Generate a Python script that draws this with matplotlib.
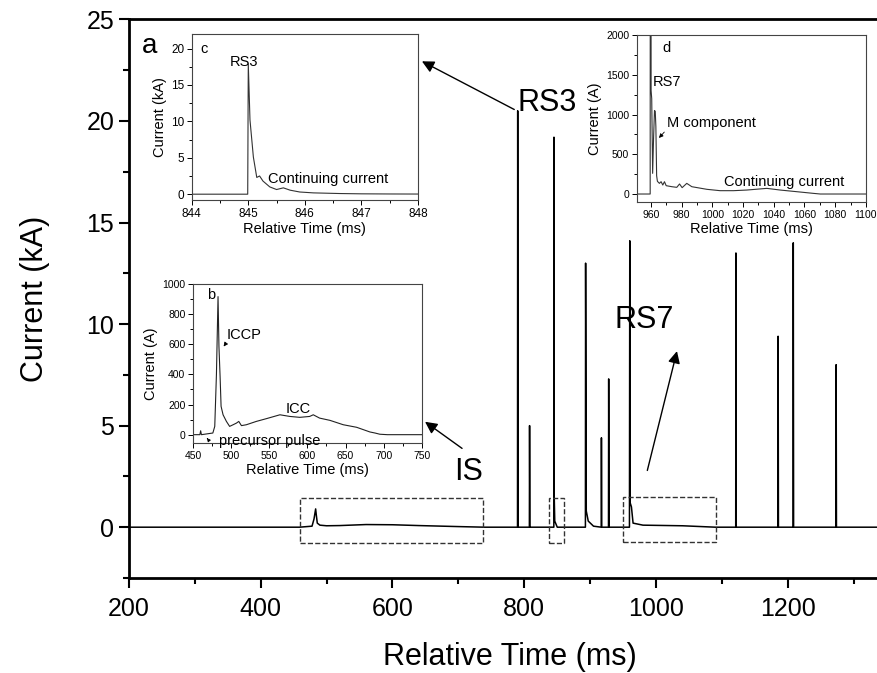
import matplotlib
matplotlib.use("Agg")
import matplotlib.pyplot as plt
from matplotlib.patches import Rectangle
from matplotlib.ticker import MultipleLocator

plt.rcParams['font.family'] = ['Liberation Sans', 'DejaVu Sans']

# main record (ms, kA)
main_t = [200, 459, 478, 481, 483.5, 484.5, 486, 490, 500, 520, 560, 600, 640, 700, 740,
          789.7, 790, 790.5, 807.7, 808, 808.5, 844.8, 845.0, 845.4, 846.2, 850,
          892.7, 893, 894, 897, 905, 916.7, 917, 917.5, 927.7, 928, 928.5,
          959.5, 960, 960.6, 962.5, 965, 980, 1040, 1090,
          1120.7, 1121, 1121.5, 1184.7, 1185, 1185.5, 1207.7, 1208, 1208.5,
          1272.7, 1273, 1273.5, 1400]
main_i = [0, 0, 0.05, 0.4, 0.9, 0.6, 0.2, 0.1, 0.07, 0.08, 0.13, 0.12, 0.08, 0.03, 0,
          0, 20.5, 0, 0, 5.0, 0, 0, 19.2, 1.5, 0.3, 0,
          0, 13.0, 0.8, 0.3, 0.05, 0, 4.4, 0, 0, 7.3, 0,
          0, 14.1, 1.2, 1.0, 0.2, 0.1, 0.07, 0,
          0, 13.5, 0, 0, 9.4, 0, 0, 14.0, 0,
          0, 8.0, 0, 0]

# inset c: RS3 (ms, kA)
c_t = [844.0, 844.99, 845.0, 845.03, 845.09, 845.15, 845.2, 845.26, 845.38, 845.5,
       845.62, 845.74, 845.91, 846.15, 846.62, 847.0, 847.5, 848.0]
c_i = [0, 0, 17.9, 10.2, 5.1, 2.3, 2.5, 1.8, 1.0, 0.64,
       0.87, 0.55, 0.3, 0.18, 0.09, 0.05, 0.03, 0.02]

# inset d: RS7 (ms, A)
d_t = [950, 959.6, 959.8, 960.2, 960.6, 961.2, 961.8, 962.4, 962.9, 963.3, 963.8, 964.3,
       965.6, 966.7, 967.8, 968.9, 970.0, 973.7, 976.9, 978.7, 980.4, 983.4, 986.7,
       996.5, 1005.1, 1013.8, 1022.5, 1035.5, 1044.2, 1055.1, 1065.9, 1070.3, 1100]
d_i = [0, 0, 14000, 1300, 1200, 260, 700, 1050, 1040, 850, 230, 160,
       134, 155, 113, 155, 105, 92, 84, 126, 80, 134, 92,
       59, 42, 42, 50, 71, 50, 29, 8, 0, 0]

# inset b: IS (ms, A)
b_t = [450, 459, 460, 461, 476, 478.5, 480.7, 482.8, 484, 485.5, 486.8, 489.4, 493.8,
       498, 502.6, 507, 510, 513.5, 520, 533, 546, 564, 577, 590, 603, 607.7, 616,
       629.6, 647, 664.6, 682, 688.7, 695, 705, 750]
b_i = [0, 0, 26, 0, 11, 55, 400, 916, 585, 386, 188, 132, 88,
       55, 66, 77, 88, 60, 66, 88, 106, 132, 121, 115, 121, 132, 110,
       95, 66, 49, 18, 11, 3, 0, 0]

# dashed zoom boxes (t0, t1, i0, i1)
boxes = [(459.5, 737, -0.8, 1.45), (837, 860, -0.8, 1.45), (950, 1091, -0.75, 1.5)]

fig = plt.figure(figsize=(8.77, 6.73), dpi=100)
ax = fig.add_axes([0.1468, 0.1412, 0.8532, 0.83])
ax.plot(main_t, main_i, color='black', lw=1.1)
ax.set_xlim(200, 1335)
ax.set_ylim(-2.5, 25)
ax.xaxis.set_major_locator(MultipleLocator(200))
ax.xaxis.set_minor_locator(MultipleLocator(100))
ax.yaxis.set_major_locator(MultipleLocator(5))
ax.yaxis.set_minor_locator(MultipleLocator(2.5))
ax.tick_params(which='both', direction='out', width=1.5, labelsize=18, top=False, right=False)
ax.tick_params(which='major', length=7)
ax.tick_params(which='minor', length=4)
ax.tick_params(axis='x', which='major', pad=7)
for s in ax.spines.values():
    s.set_linewidth(2)
ax.spines['right'].set_visible(False)
ax.set_xlabel('Relative Time (ms)', fontsize=22)
ax.xaxis.set_label_coords(0.51, -0.115)
ax.set_ylabel('Current (kA)', fontsize=22, labelpad=26)

for t0, t1, i0, i1 in boxes:
    ax.add_patch(Rectangle((t0, i0), t1 - t0, i1 - i0, fill=False, ls='--',
                           lw=1.0, ec='#333333', zorder=3))

ax.text(220, 23.7, 'a', fontsize=20, va='center')
ax.text(789, 20.9, 'RS3', fontsize=22, va='center')
ax.text(982, 10.2, 'RS7', fontsize=22, va='center', ha='center')
ax.text(716, 2.7, 'IS', fontsize=22, va='center', ha='center')
arw = dict(arrowstyle='-|>', color='black', lw=1.0, mutation_scale=18)
ax.annotate('', xy=(641, 23.0), xytext=(788.5, 20.5), arrowprops=arw)
ax.annotate('', xy=(1032.6, 8.8), xytext=(985.6, 2.66), arrowprops=arw)
ax.annotate('', xy=(646, 5.27), xytext=(709, 3.8), arrowprops=arw)


def style_inset(a, tsize):
    for s in a.spines.values():
        s.set_linewidth(0.8)
        s.set_color('#444444')
    a.tick_params(which='both', direction='out', width=0.7, labelsize=tsize,
                  top=False, right=False, pad=2)
    a.tick_params(which='major', length=3.5)
    a.tick_params(which='minor', length=2)
    a.set_xlabel('Relative Time (ms)', fontsize=10.5, labelpad=2)


# inset c
axc = fig.add_axes([0.2186, 0.7028, 0.258, 0.2467])
axc.plot(c_t, c_i, color='#333333', lw=0.8)
axc.set_xlim(844, 848)
axc.set_ylim(-0.8, 22)
axc.xaxis.set_major_locator(MultipleLocator(1))
axc.xaxis.set_minor_locator(MultipleLocator(0.5))
axc.yaxis.set_major_locator(MultipleLocator(5))
axc.yaxis.set_minor_locator(MultipleLocator(2.5))
style_inset(axc, 8.5)
axc.set_ylabel('Current (kA)', fontsize=10.5, labelpad=3)
axc.text(844.15, 19.9, 'c', fontsize=10.5, va='center')
axc.text(844.68, 18.1, 'RS3', fontsize=10.5, va='center')
axc.text(845.35, 2.06, 'Continuing current', fontsize=10.5, va='center')

# inset d
axd = fig.add_axes([0.7263, 0.6999, 0.2611, 0.2481])
axd.plot(d_t, d_i, color='#333333', lw=0.8)
axd.set_xlim(951, 1100)
axd.set_ylim(-100, 2000)
axd.xaxis.set_major_locator(MultipleLocator(20))
axd.xaxis.set_minor_locator(MultipleLocator(10))
axd.yaxis.set_major_locator(MultipleLocator(500))
axd.yaxis.set_minor_locator(MultipleLocator(250))
style_inset(axd, 7.5)
axd.set_ylabel('Current (A)', fontsize=10.5, labelpad=3)
axd.text(967.4, 1836, 'd', fontsize=10.5, va='center')
axd.text(961.5, 1409, 'RS7', fontsize=10.5, va='center')
axd.text(970.6, 893, 'M component', fontsize=10.5, va='center')
axd.annotate('', xy=(964.1, 679), xytext=(970, 805),
             arrowprops=dict(arrowstyle='-|>', color='black', lw=0.6, mutation_scale=6))
axd.text(1007.7, 151, 'Continuing current', fontsize=10.5, va='center')

# inset b
axb = fig.add_axes([0.2201, 0.3418, 0.2608, 0.2363])
axb.plot(b_t, b_i, color='#222222', lw=0.8)
axb.set_xlim(450, 750)
axb.set_ylim(-55, 1000)
axb.xaxis.set_major_locator(MultipleLocator(50))
axb.xaxis.set_minor_locator(MultipleLocator(25))
axb.yaxis.set_major_locator(MultipleLocator(200))
axb.yaxis.set_minor_locator(MultipleLocator(100))
style_inset(axb, 7.5)
axb.set_ylabel('Current (A)', fontsize=10.5, labelpad=3)
axb.text(468.4, 927, 'b', fontsize=10.5, va='center')
axb.text(494.6, 662, 'ICCP', fontsize=10.5, va='center')
axb.annotate('', xy=(488, 570), xytext=(494.6, 616),
             arrowprops=dict(arrowstyle='-|>', color='black', lw=0.6, mutation_scale=6))
axb.text(572, 172, 'ICC', fontsize=10.5, va='center')
axb.text(484, -40, 'precursor pulse', fontsize=10.5, va='center')
axb.annotate('', xy=(466, -8), xytext=(471, -40),
             arrowprops=dict(arrowstyle='-|>', color='black', lw=0.6, mutation_scale=5))

fig.savefig('out.png', dpi=100)
